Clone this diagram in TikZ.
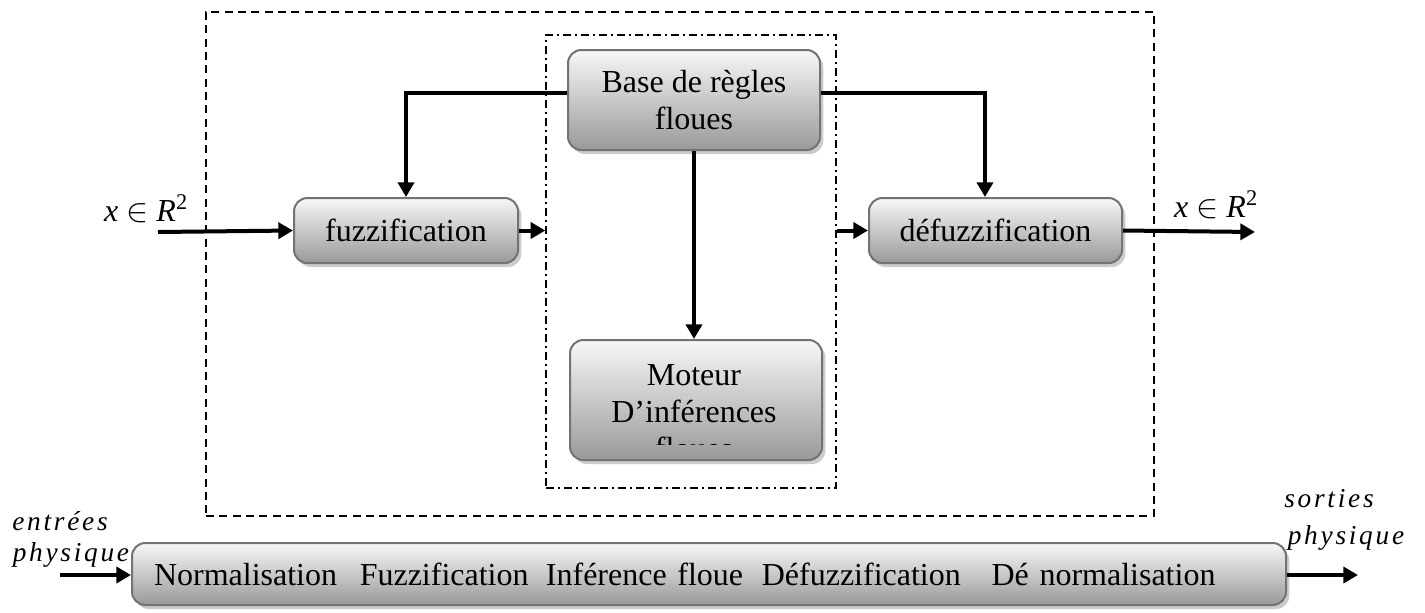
\documentclass[tikz,border=0pt]{standalone}
\usepackage{fontspec}
\setmainfont{Liberation Serif}
\newfontfamily\spacedfont[LetterSpace=10]{Liberation Serif}
\usetikzlibrary{arrows.meta,shadows}
\begin{document}
\begin{tikzpicture}[x=0.75pt,y=-0.75pt,
  blk/.style={draw=black!55, line width=1.5pt, rounded corners=10pt,
    top color=black!3, bottom color=black!40, align=center, inner sep=0pt,
    drop shadow={shadow xshift=2.5pt, shadow yshift=-3pt, fill=black!25, opacity=0.8},
    font=\fontsize{24}{27.75}\selectfont},
  arr/.style={line width=3pt, -{Triangle[length=11pt,width=12pt]}},
  lbl/.style={inner sep=0pt, font=\fontsize{24}{28}\selectfont},
  phys/.style={inner sep=0pt, font=\fontsize{20.5}{24}\spacedfont\itshape},
  outerbox/.style={draw, line width=1pt, dash pattern=on 6pt off 4pt, inner sep=0pt},
  innerbox/.style={draw, line width=1pt, dash pattern=on 6pt off 3pt on 1.5pt off 3pt, inner sep=0pt}
]
\useasboundingbox (0,0) rectangle (1425,612);
% frames
\node[outerbox, minimum width=711pt, minimum height=378pt] (outer) at (680,264) {};
\node[innerbox, minimum width=217.5pt, minimum height=339.75pt] (inner) at (691,261.5) {};
% blocks
\node[blk, minimum width=189pt, minimum height=75pt] (base) at (694,100) {Base de règles\\floues};
\node[blk, minimum width=189pt, minimum height=90pt] (moteur) at (696,400) {};
\begin{scope}
  \clip (575,345) rectangle (818,444);
  \node[inner sep=0pt, align=center, font=\fontsize{24}{27.75}\selectfont] (mtxt) at (694,412) {Moteur\\D’inférences\\floues};
\end{scope}
\node[blk, minimum width=168pt, minimum height=48.75pt] (fuzz) at (406,230.5) {fuzzification};
\node[blk, minimum width=189.75pt, minimum height=48.75pt] (defuzz) at (995.5,230.5) {défuzzification};
\node[blk, minimum width=849pt, minimum height=46.5pt, text width=832.5pt, align=left, inner xsep=16.5pt,
  font=\fontsize{24}{28}\selectfont] (bottom) at (709,574)
  {Normalisation\hspace{17pt}Fuzzification\hspace{13pt}Inférence floue\hspace{14pt}Défuzzification\hspace{23pt}Dé normalisation};
% coordinates
\coordinate (inpt) at (158,232);
\coordinate (outpt) at (1255,232);
\coordinate (bin) at (60,575);
\coordinate (bout) at (1358,575);
\coordinate (bl) at ([yshift=5.25pt]base.west);
\coordinate (br) at ([yshift=5.25pt]base.east);
\coordinate (dtop) at ([xshift=-7.9pt]defuzz.north);
% connectors
\draw[arr] (bl) -| (fuzz.north);
\draw[arr] (br) -| (dtop);
\draw[arr] (base.south) -- (base.south |- moteur.north);
\draw[arr] (inpt) -- (fuzz.west);
\draw[arr] (fuzz.east) -- (fuzz.east -| inner.west);
\draw[arr] (inner.east |- defuzz.west) -- (defuzz.west);
\draw[arr] (defuzz.east) -- (outpt);
\draw[arr] (bin) -- (bottom.west |- bin);
\draw[arr] (bottom.east |- bout) -- (bout);
% labels
\node[lbl] (xin) at (146,209) {\textit{x} $\in$ \textit{R}\textsuperscript{2}};
\node[lbl] (xout) at (1216,205) {\textit{x} $\in$ \textit{R}\textsuperscript{2}};
\node[phys] (ent) at (60,521) {entrées};
\node[phys] (phin) at (71,555) {physique};
\node[phys] (sor) at (1329,499) {sorties};
\node[phys] (phout) at (1346,538) {physique};
\end{tikzpicture}
\end{document}
